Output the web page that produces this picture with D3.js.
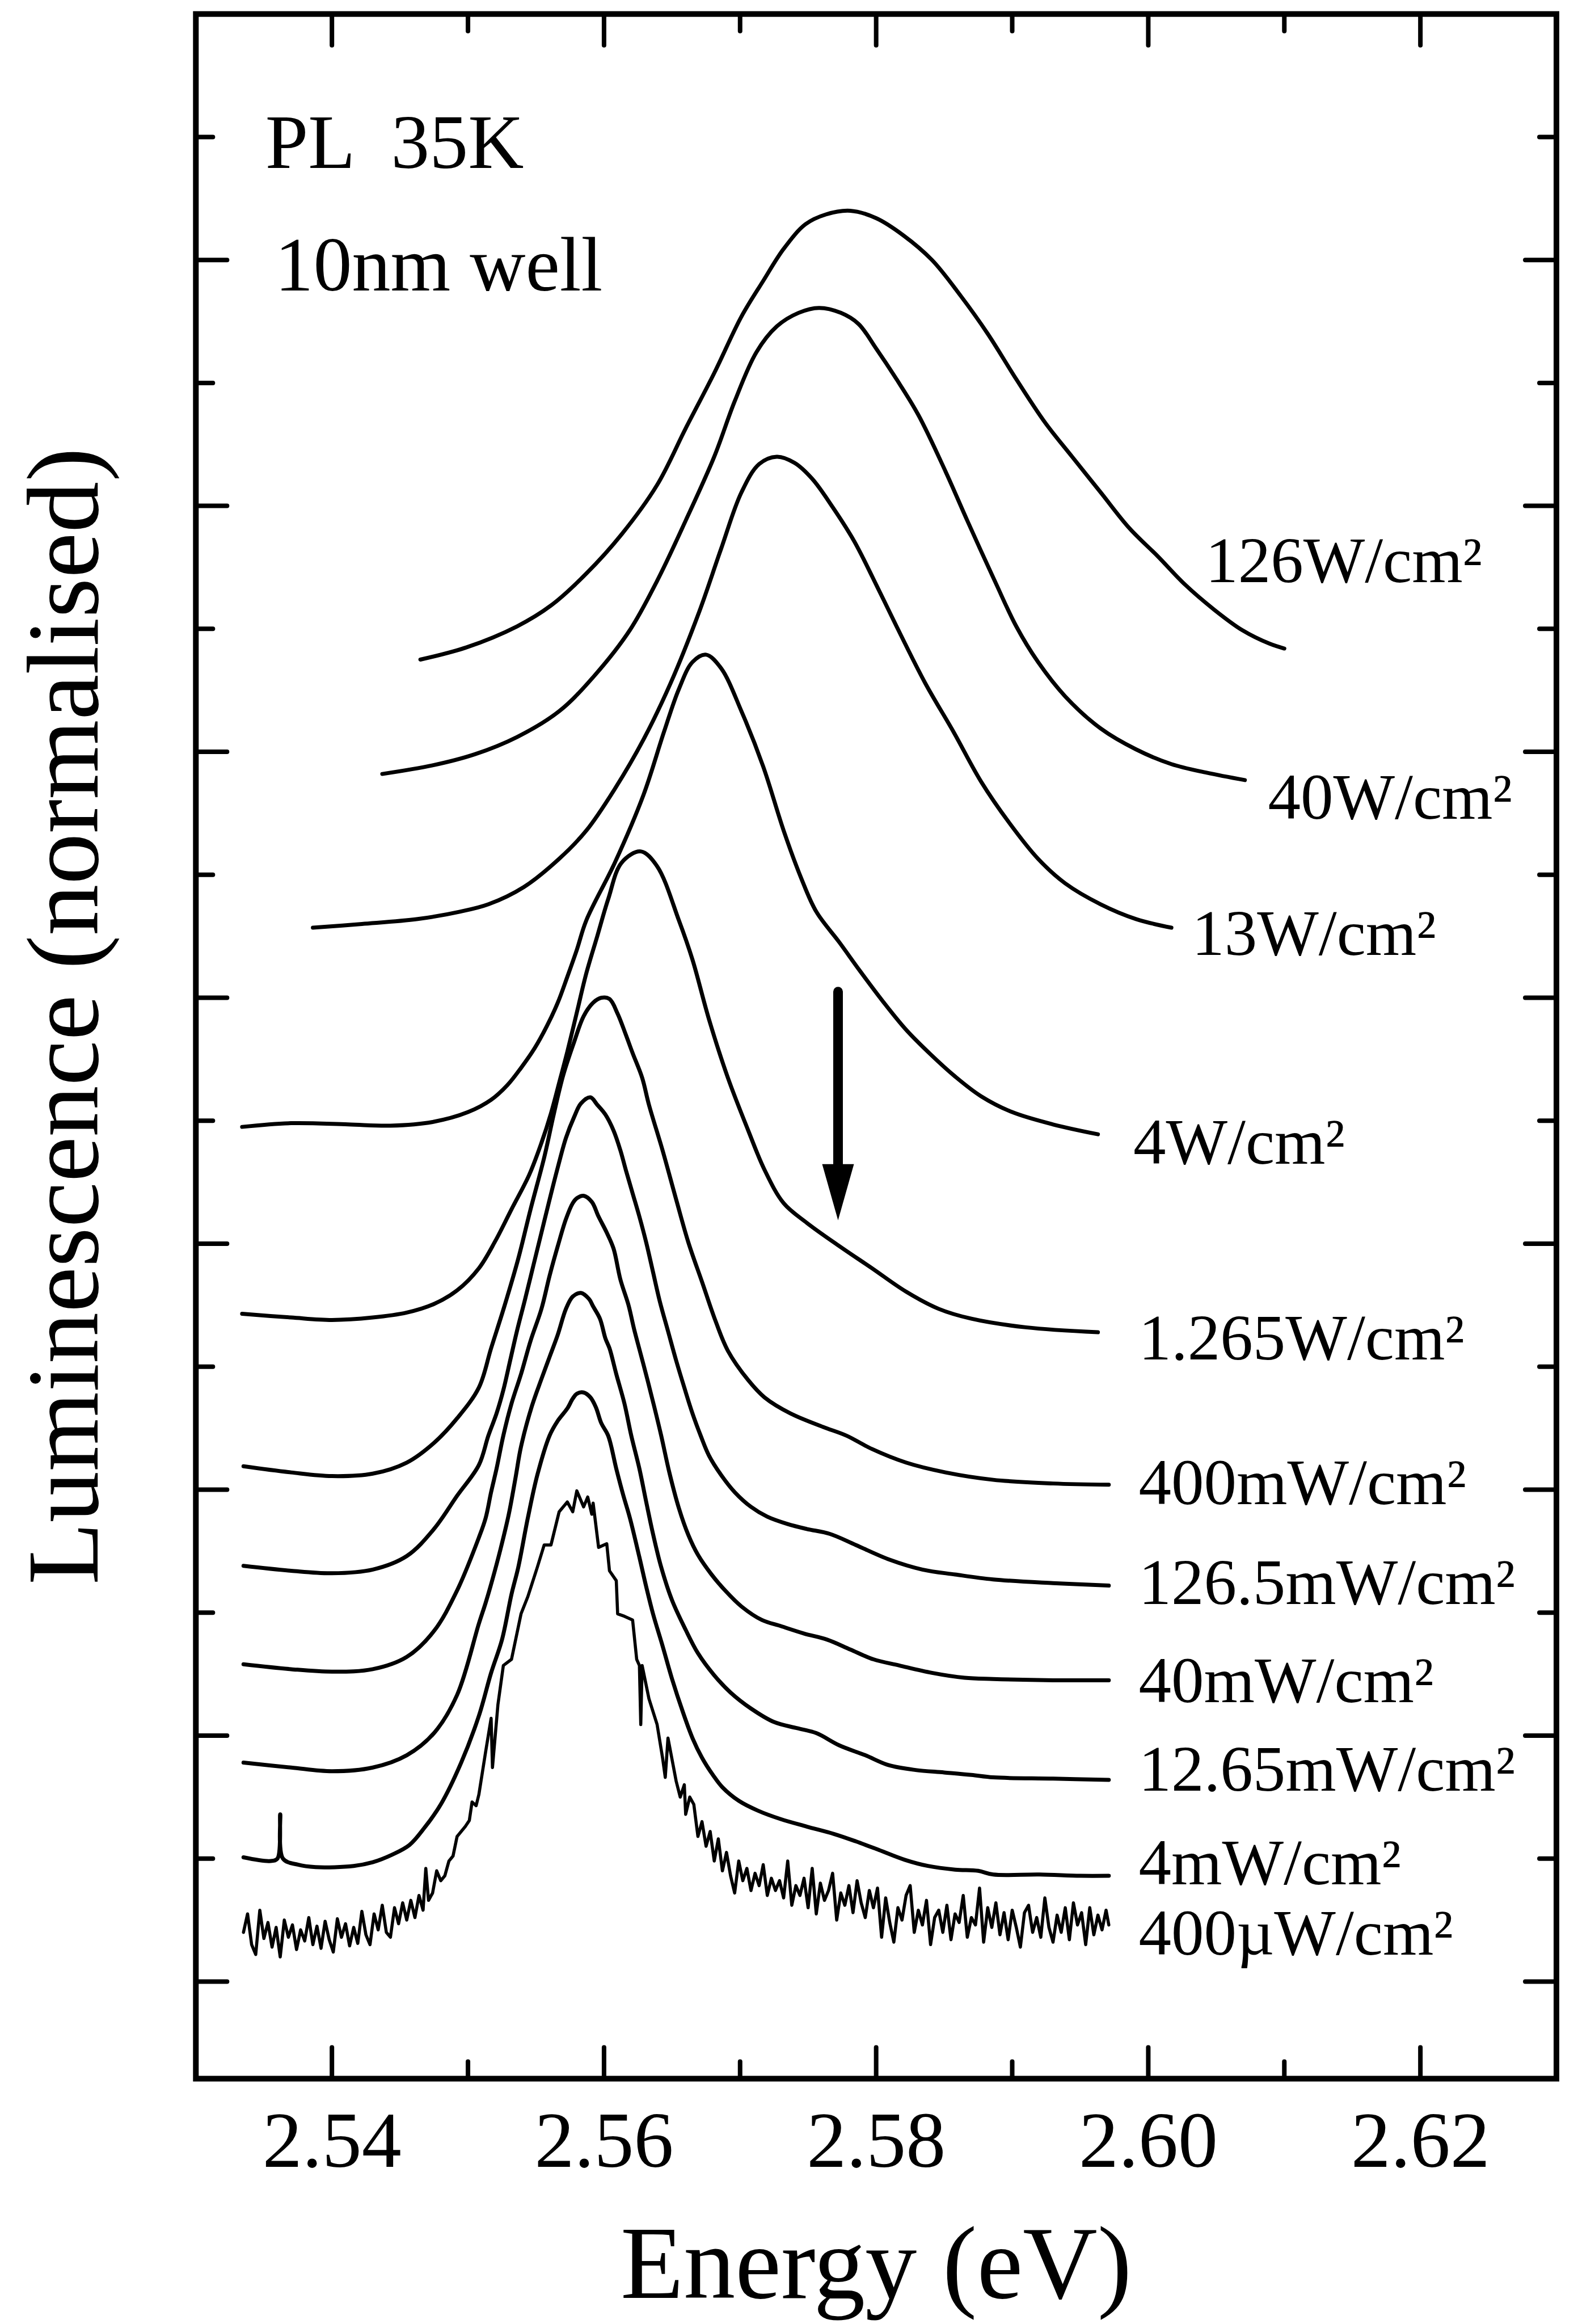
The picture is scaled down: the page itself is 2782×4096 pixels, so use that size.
<!DOCTYPE html>
<html>
<head>
<meta charset="utf-8">
<script src="https://cdn.jsdelivr.net/npm/d3@7"></script>
<style>
  html, body { margin: 0; padding: 0; background: #fff; }
  svg { display: block; }
</style>
</head>
<body>
<script>
// Power-dependent PL spectra, 10nm well at 35K (normalised, vertically offset)

// x axis: photon energy (eV)
const energyTicks = [2.54, 2.55, 2.56, 2.57, 2.58, 2.59, 2.60, 2.61, 2.62];
const energyLabels = ["2.54", "2.56", "2.58", "2.60", "2.62"];
// y axis: offset intensity units (no tick labels)
const levelTicks = d3.range(0, 16);

// spectra: [energy eV, offset intensity]
const pl126W = [[2.5465,10.75],[2.5499,10.85],[2.5536,11.02],[2.5561,11.19],[2.5587,11.45],[2.5613,11.77],[2.5639,12.17],[2.5660,12.63],[2.5681,13.08],[2.5701,13.54],[2.5717,13.83],[2.5732,14.09],[2.5748,14.29],[2.5763,14.37],[2.5781,14.40],[2.5800,14.34],[2.5820,14.20],[2.5841,14.00],[2.5862,13.71],[2.5882,13.40],[2.5903,13.03],[2.5924,12.68],[2.5944,12.40],[2.5965,12.11],[2.5986,11.82],[2.6007,11.59],[2.6027,11.36],[2.6048,11.16],[2.6069,10.99],[2.6089,10.88],[2.6100,10.84]];

const pl40W = [[2.5437,9.82],[2.5474,9.89],[2.5505,9.98],[2.5536,10.12],[2.5567,10.33],[2.5593,10.62],[2.5619,10.99],[2.5639,11.39],[2.5660,11.88],[2.5681,12.40],[2.5696,12.85],[2.5712,13.25],[2.5727,13.46],[2.5743,13.57],[2.5758,13.61],[2.5774,13.57],[2.5787,13.48],[2.5800,13.28],[2.5815,13.03],[2.5831,12.74],[2.5851,12.28],[2.5867,11.88],[2.5888,11.37],[2.5903,11.02],[2.5919,10.73],[2.5939,10.45],[2.5965,10.19],[2.5991,10.02],[2.6017,9.90],[2.6043,9.83],[2.6071,9.77]];

const pl13W = [[2.5386,8.57],[2.5422,8.60],[2.5463,8.64],[2.5494,8.70],[2.5515,8.76],[2.5541,8.90],[2.5567,9.13],[2.5587,9.36],[2.5608,9.70],[2.5629,10.10],[2.5649,10.56],[2.5670,11.14],[2.5686,11.65],[2.5701,12.11],[2.5714,12.34],[2.5727,12.40],[2.5740,12.35],[2.5753,12.22],[2.5768,11.99],[2.5784,11.71],[2.5800,11.36],[2.5815,11.02],[2.5836,10.56],[2.5857,10.16],[2.5877,9.76],[2.5898,9.42],[2.5919,9.13],[2.5939,8.93],[2.5965,8.76],[2.5991,8.64],[2.6017,8.57]];

const pl4W = [[2.5334,6.95],[2.5370,6.98],[2.5412,6.97],[2.5443,6.96],[2.5474,6.99],[2.5500,7.07],[2.5517,7.17],[2.5529,7.29],[2.5539,7.43],[2.5549,7.59],[2.5558,7.77],[2.5566,7.96],[2.5573,8.17],[2.5580,8.39],[2.5587,8.63],[2.5608,9.10],[2.5629,9.65],[2.5644,10.16],[2.5655,10.51],[2.5665,10.73],[2.5675,10.79],[2.5686,10.68],[2.5701,10.33],[2.5717,9.88],[2.5732,9.36],[2.5745,8.97],[2.5756,8.70],[2.5773,8.45],[2.5788,8.22],[2.5805,7.97],[2.5822,7.74],[2.5840,7.54],[2.5858,7.36],[2.5877,7.20],[2.5900,7.07],[2.5930,6.97],[2.5963,6.89]];

const pl1265mW = [[2.5334,5.43],[2.5370,5.40],[2.5400,5.38],[2.5430,5.40],[2.5455,5.44],[2.5475,5.51],[2.5492,5.62],[2.5508,5.80],[2.5520,6.02],[2.5532,6.28],[2.5545,6.56],[2.5554,6.82],[2.5561,7.06],[2.5568,7.35],[2.5573,7.56],[2.5580,7.88],[2.5587,8.20],[2.5595,8.50],[2.5603,8.80],[2.5613,9.10],[2.5627,9.19],[2.5639,9.07],[2.5655,8.63],[2.5665,8.31],[2.5677,7.83],[2.5691,7.35],[2.5706,6.92],[2.5718,6.60],[2.5732,6.33],[2.5749,6.17],[2.5773,5.98],[2.5797,5.80],[2.5822,5.61],[2.5846,5.47],[2.5870,5.39],[2.5910,5.32],[2.5963,5.28]];

const pl400mW = [[2.5335,4.19],[2.5370,4.14],[2.5400,4.11],[2.5430,4.13],[2.5455,4.22],[2.5475,4.38],[2.5492,4.58],[2.5508,4.83],[2.5517,5.15],[2.5527,5.50],[2.5537,5.88],[2.5546,6.28],[2.5556,6.70],[2.5563,7.05],[2.5570,7.37],[2.5578,7.64],[2.5585,7.85],[2.5592,7.96],[2.5598,8.00],[2.5604,7.99],[2.5610,7.87],[2.5616,7.70],[2.5621,7.55],[2.5628,7.35],[2.5633,7.13],[2.5643,6.76],[2.5653,6.36],[2.5662,6.01],[2.5672,5.69],[2.5682,5.37],[2.5691,5.13],[2.5706,4.89],[2.5718,4.75],[2.5737,4.62],[2.5761,4.51],[2.5778,4.44],[2.5797,4.33],[2.5822,4.22],[2.5851,4.14],[2.5886,4.08],[2.5930,4.05],[2.5971,4.04]];

const pl126mW = [[2.5335,3.38],[2.5370,3.34],[2.5400,3.32],[2.5430,3.35],[2.5455,3.46],[2.5475,3.68],[2.5492,3.95],[2.5508,4.20],[2.5515,4.44],[2.5521,4.62],[2.5526,4.81],[2.5531,5.05],[2.5536,5.29],[2.5542,5.55],[2.5548,5.82],[2.5554,6.09],[2.5560,6.36],[2.5566,6.62],[2.5572,6.86],[2.5578,7.03],[2.5583,7.14],[2.5590,7.19],[2.5595,7.13],[2.5601,7.05],[2.5607,6.92],[2.5612,6.76],[2.5616,6.60],[2.5621,6.41],[2.5626,6.22],[2.5631,6.01],[2.5636,5.77],[2.5641,5.53],[2.5647,5.29],[2.5653,5.05],[2.5659,4.83],[2.5665,4.62],[2.5671,4.44],[2.5677,4.28],[2.5686,4.12],[2.5696,3.98],[2.5708,3.86],[2.5720,3.78],[2.5735,3.72],[2.5749,3.68],[2.5766,3.64],[2.5785,3.55],[2.5810,3.43],[2.5834,3.35],[2.5858,3.31],[2.5886,3.27],[2.5930,3.24],[2.5971,3.22]];

const pl40mW = [[2.5335,2.58],[2.5370,2.54],[2.5400,2.52],[2.5430,2.54],[2.5455,2.64],[2.5475,2.85],[2.5492,3.18],[2.5508,3.61],[2.5513,3.77],[2.5517,3.98],[2.5521,4.17],[2.5526,4.44],[2.5532,4.70],[2.5539,4.94],[2.5546,5.21],[2.5554,5.47],[2.5560,5.74],[2.5566,5.98],[2.5572,6.20],[2.5577,6.33],[2.5580,6.37],[2.5585,6.39],[2.5591,6.34],[2.5596,6.22],[2.5602,6.09],[2.5607,5.96],[2.5612,5.71],[2.5618,5.50],[2.5622,5.31],[2.5627,5.10],[2.5632,4.89],[2.5637,4.67],[2.5642,4.44],[2.5648,4.14],[2.5655,3.85],[2.5662,3.63],[2.5669,3.47],[2.5679,3.31],[2.5689,3.18],[2.5701,3.05],[2.5716,2.94],[2.5730,2.89],[2.5747,2.83],[2.5764,2.78],[2.5781,2.70],[2.5798,2.62],[2.5817,2.57],[2.5841,2.51],[2.5865,2.47],[2.5886,2.46],[2.5930,2.45],[2.5971,2.45]];

const pl12mW = [[2.5335,1.78],[2.5370,1.74],[2.5400,1.71],[2.5430,1.74],[2.5455,1.84],[2.5475,2.02],[2.5492,2.33],[2.5508,2.91],[2.5513,3.08],[2.5518,3.27],[2.5524,3.52],[2.5530,3.80],[2.5535,4.10],[2.5539,4.35],[2.5547,4.68],[2.5554,4.90],[2.5560,5.08],[2.5566,5.26],[2.5572,5.47],[2.5577,5.57],[2.5583,5.60],[2.5589,5.55],[2.5592,5.49],[2.5597,5.39],[2.5601,5.23],[2.5604,5.15],[2.5609,4.94],[2.5615,4.70],[2.5620,4.44],[2.5626,4.17],[2.5631,3.90],[2.5636,3.64],[2.5642,3.37],[2.5650,3.10],[2.5660,2.86],[2.5669,2.67],[2.5681,2.49],[2.5693,2.35],[2.5708,2.22],[2.5725,2.11],[2.5742,2.06],[2.5756,2.02],[2.5773,1.92],[2.5792,1.84],[2.5809,1.76],[2.5829,1.72],[2.5850,1.70],[2.5870,1.68],[2.5886,1.66],[2.5930,1.65],[2.5971,1.64]];

const pl4mW = [[2.5335,1.01],[2.5355,0.98],[2.5360,1.00],[2.5362,1.36],[2.5364,1.00],[2.5375,0.95],[2.5388,0.93],[2.5416,0.94],[2.5430,0.97],[2.5444,1.03],[2.5457,1.11],[2.5468,1.25],[2.5480,1.44],[2.5495,1.78],[2.5508,2.16],[2.5517,2.51],[2.5525,2.78],[2.5532,3.15],[2.5537,3.37],[2.5544,3.77],[2.5551,4.12],[2.5560,4.44],[2.5566,4.56],[2.5573,4.66],[2.5577,4.74],[2.5580,4.78],[2.5585,4.79],[2.5590,4.75],[2.5594,4.67],[2.5598,4.54],[2.5603,4.44],[2.5609,4.17],[2.5614,3.96],[2.5619,3.77],[2.5626,3.45],[2.5631,3.21],[2.5636,2.99],[2.5643,2.73],[2.5650,2.46],[2.5658,2.19],[2.5665,1.98],[2.5672,1.82],[2.5680,1.68],[2.5687,1.58],[2.5699,1.47],[2.5713,1.39],[2.5730,1.32],[2.5749,1.26],[2.5769,1.20],[2.5785,1.14],[2.5802,1.07],[2.5821,0.99],[2.5838,0.94],[2.5858,0.91],[2.5875,0.90],[2.5886,0.87],[2.5920,0.87],[2.5950,0.86],[2.5971,0.86]];

const pl400uW = [[2.5335,0.40],[2.5338,0.55],[2.5341,0.30],[2.5344,0.22],[2.5347,0.58],[2.5350,0.35],[2.5353,0.48],[2.5356,0.28],[2.5359,0.44],[2.5362,0.20],[2.5365,0.50],[2.5368,0.36],[2.5371,0.46],[2.5374,0.26],[2.5377,0.42],[2.5380,0.33],[2.5383,0.52],[2.5386,0.30],[2.5389,0.45],[2.5392,0.27],[2.5395,0.49],[2.5398,0.34],[2.5401,0.24],[2.5404,0.51],[2.5407,0.36],[2.5410,0.47],[2.5413,0.29],[2.5416,0.44],[2.5419,0.31],[2.5422,0.57],[2.5425,0.38],[2.5428,0.30],[2.5431,0.55],[2.5434,0.42],[2.5437,0.62],[2.5440,0.40],[2.5443,0.36],[2.5446,0.60],[2.5449,0.47],[2.5452,0.64],[2.5455,0.50],[2.5458,0.66],[2.5461,0.52],[2.5464,0.70],[2.5467,0.58],[2.5469,0.92],[2.5471,0.66],[2.5474,0.72],[2.5477,0.90],[2.5480,0.82],[2.5483,0.86],[2.5486,0.98],[2.5489,1.02],[2.5492,1.18],[2.5495,1.22],[2.5498,1.26],[2.5501,1.31],[2.5503,1.46],[2.5506,1.43],[2.5508,1.52],[2.5513,1.87],[2.5517,2.14],[2.5518,1.74],[2.5522,2.25],[2.5526,2.57],[2.5532,2.62],[2.5539,2.99],[2.5544,3.13],[2.5551,3.37],[2.5556,3.55],[2.5561,3.55],[2.5567,3.82],[2.5573,3.90],[2.5577,3.82],[2.5580,3.99],[2.5585,3.86],[2.5588,3.94],[2.5591,3.80],[2.5592,3.89],[2.5596,3.53],[2.5602,3.56],[2.5604,3.34],[2.5609,3.26],[2.5610,2.99],[2.5615,2.97],[2.5621,2.94],[2.5624,2.62],[2.5626,2.57],[2.5627,2.09],[2.5628,2.57],[2.5633,2.30],[2.5639,2.09],[2.5643,1.82],[2.5645,1.66],[2.5647,1.98],[2.5653,1.63],[2.5656,1.50],[2.5659,1.60],[2.5660,1.36],[2.5663,1.50],[2.5666,1.44],[2.5669,1.18],[2.5672,1.30],[2.5675,1.10],[2.5678,1.22],[2.5681,0.98],[2.5684,1.16],[2.5687,0.90],[2.5690,1.05],[2.5693,0.86],[2.5696,0.72],[2.5699,0.98],[2.5702,0.82],[2.5705,0.92],[2.5708,0.74],[2.5711,0.88],[2.5714,0.78],[2.5717,0.95],[2.5720,0.70],[2.5723,0.84],[2.5726,0.74],[2.5729,0.82],[2.5732,0.68],[2.5735,0.98],[2.5738,0.62],[2.5741,0.78],[2.5744,0.70],[2.5747,0.84],[2.5750,0.60],[2.5753,0.92],[2.5756,0.55],[2.5759,0.80],[2.5762,0.66],[2.5765,0.74],[2.5768,0.88],[2.5771,0.50],[2.5774,0.72],[2.5777,0.62],[2.5780,0.78],[2.5783,0.56],[2.5786,0.82],[2.5789,0.64],[2.5792,0.52],[2.5795,0.74],[2.5798,0.60],[2.5801,0.76],[2.5804,0.36],[2.5807,0.68],[2.5810,0.48],[2.5813,0.32],[2.5816,0.60],[2.5819,0.50],[2.5822,0.70],[2.5825,0.78],[2.5828,0.40],[2.5831,0.58],[2.5834,0.46],[2.5837,0.66],[2.5840,0.30],[2.5843,0.52],[2.5846,0.58],[2.5849,0.40],[2.5852,0.62],[2.5855,0.34],[2.5858,0.55],[2.5861,0.48],[2.5864,0.70],[2.5867,0.36],[2.5870,0.52],[2.5873,0.46],[2.5876,0.76],[2.5879,0.32],[2.5882,0.60],[2.5885,0.44],[2.5888,0.64],[2.5891,0.38],[2.5894,0.56],[2.5897,0.34],[2.5900,0.58],[2.5903,0.44],[2.5906,0.28],[2.5909,0.56],[2.5912,0.62],[2.5915,0.40],[2.5918,0.52],[2.5921,0.36],[2.5924,0.68],[2.5927,0.44],[2.5930,0.32],[2.5933,0.54],[2.5936,0.40],[2.5939,0.60],[2.5942,0.34],[2.5945,0.64],[2.5948,0.46],[2.5951,0.56],[2.5954,0.30],[2.5957,0.60],[2.5960,0.38],[2.5963,0.54],[2.5966,0.42],[2.5969,0.58],[2.5971,0.46]];

// excitation power density labels and where they sit (eV, offset intensity)
const seriesLabels = ["126W/cm²", "40W/cm²", "13W/cm²", "4W/cm²", "1.265W/cm²", "400mW/cm²", "126.5mW/cm²", "40mW/cm²", "12.65mW/cm²", "4mW/cm²", "400µW/cm²"];
const labelEnergy = [2.6042, 2.6088, 2.6032, 2.5989, 2.5993, 2.5993, 2.5993, 2.5993, 2.5993, 2.5993, 2.5993];
const labelLevel = [11.38, 9.455, 8.35, 6.65, 5.06, 3.88, 3.07, 2.27, 1.55, 0.79, 0.22];
const spectra = [pl126W, pl40W, pl13W, pl4W, pl1265mW, pl400mW, pl126mW, pl40mW, pl12mW, pl4mW, pl400uW];

// shoulder marker arrow (eV, from level, to level)
const arrowEnergy = 2.5772, arrowFrom = 8.05, arrowTo = 6.19;

// ---- layout ----
const W = 2782, H = 4096;
const FONT = "'Liberation Serif', 'Times New Roman', serif";

const svg = d3.select("body").append("svg")
  .attr("width", W).attr("height", H)
  .attr("viewBox", `0 0 ${W} ${H}`);
svg.append("rect").attr("width", W).attr("height", H).attr("fill", "#fff");

const x = d3.scaleLinear().domain([2.53, 2.63]).range([345.3, 2744]);
const y = d3.scaleLinear().domain([-0.79, 16]).range([3663.6, 24.7]);

const [x0, x1] = x.range();
const [yb, yt] = y.range();

// ticks on all four sides, pointing inwards
const isMajorE = e => Math.round(e * 100) % 2 === 0;
const isMajorL = v => v % 2 === 0;
const MAJ = 55, MIN = 30;
const tickG = svg.append("g").attr("stroke", "#000").attr("stroke-width", 8).attr("stroke-linecap", "round");

tickG.selectAll("line.xb").data(energyTicks).join("line")
  .attr("x1", d => x(d)).attr("x2", d => x(d))
  .attr("y1", yb).attr("y2", d => yb - (isMajorE(d) ? MAJ : MIN));
tickG.selectAll("line.xt").data(energyTicks).join("line")
  .attr("x1", d => x(d)).attr("x2", d => x(d))
  .attr("y1", yt).attr("y2", d => yt + (isMajorE(d) ? MAJ : MIN));
tickG.selectAll("line.yl").data(levelTicks).join("line")
  .attr("y1", d => y(d)).attr("y2", d => y(d))
  .attr("x1", x0).attr("x2", d => x0 + (isMajorL(d) ? MAJ : MIN));
tickG.selectAll("line.yr").data(levelTicks).join("line")
  .attr("y1", d => y(d)).attr("y2", d => y(d))
  .attr("x1", x1).attr("x2", d => x1 - (isMajorL(d) ? MAJ : MIN));

// frame
svg.append("rect")
  .attr("x", x0).attr("y", yt)
  .attr("width", x1 - x0).attr("height", yb - yt)
  .attr("fill", "none").attr("stroke", "#000").attr("stroke-width", 10);

// energy tick labels
svg.append("g").selectAll("text").data(energyLabels).join("text")
  .attr("x", d => x(+d)).attr("y", 3819)
  .attr("text-anchor", "middle")
  .attr("font-family", FONT).attr("font-size", 140)
  .text(d => d);

// axis titles
svg.append("text")
  .attr("x", (x0 + x1) / 2).attr("y", 4050)
  .attr("text-anchor", "middle")
  .attr("font-family", FONT).attr("font-size", 182)
  .text("Energy (eV)");

svg.append("text")
  .attr("transform", "translate(172,1791) rotate(-90)")
  .attr("text-anchor", "middle")
  .attr("font-family", FONT).attr("font-size", 180)
  .text("Luminescence (normalised)");

// spectra
const smooth = d3.line().x(d => x(d[0])).y(d => y(d[1])).curve(d3.curveCatmullRom.alpha(0.5));
const raw = d3.line().x(d => x(d[0])).y(d => y(d[1])).curve(d3.curveLinear);

svg.append("g").selectAll("path").data(spectra).join("path")
  .attr("d", (d, i) => (i === spectra.length - 1 ? raw : smooth)(d))
  .attr("fill", "none").attr("stroke", "#000")
  .attr("stroke-width", (d, i) => i === spectra.length - 1 ? 5.5 : 7)
  .attr("stroke-linejoin", "round").attr("stroke-linecap", "round");

// power density labels
svg.append("g").selectAll("text").data(seriesLabels).join("text")
  .attr("x", (d, i) => x(labelEnergy[i]))
  .attr("y", (d, i) => y(labelLevel[i]))
  .attr("font-family", FONT).attr("font-size", 115)
  .text(d => d);

// sample annotations
svg.append("text")
  .attr("x", x(2.5351)).attr("y", y(14.75))
  .attr("font-family", FONT).attr("font-size", 136)
  .attr("xml:space", "preserve").style("white-space", "pre")
  .text("PL  35K");
svg.append("text")
  .attr("x", x(2.5358)).attr("y", y(13.75))
  .attr("font-family", FONT).attr("font-size", 136)
  .text("10nm well");

// arrow marking the high-energy shoulder
const ax = x(arrowEnergy), ayTop = y(arrowFrom), ayTip = y(arrowTo);
const headLen = 99, headHalf = 28;
svg.append("line")
  .attr("x1", ax).attr("x2", ax)
  .attr("y1", ayTop).attr("y2", ayTip - headLen + 4)
  .attr("stroke", "#000").attr("stroke-width", 17).attr("stroke-linecap", "round");
svg.append("path")
  .attr("d", `M${ax - headHalf},${ayTip - headLen} L${ax + headHalf},${ayTip - headLen} L${ax},${ayTip} Z`)
  .attr("fill", "#000");
</script>
</body>
</html>
